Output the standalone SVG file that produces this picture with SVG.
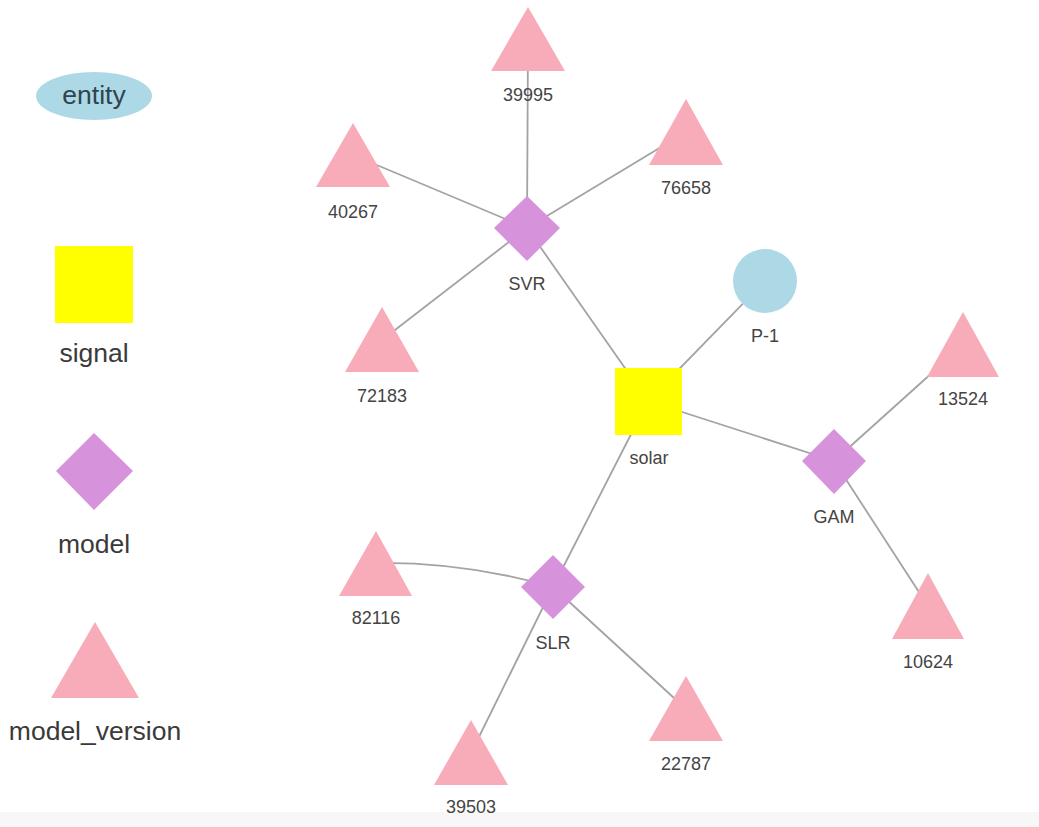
<svg xmlns="http://www.w3.org/2000/svg" width="1039" height="827" viewBox="0 0 1039 827">
<style>
.edge{stroke:#a3a3a3;stroke-width:1.8;fill:none}
.tri{fill:#f8abb9}
.dia{fill:#d792dc}
.sq{fill:#ffff00}
.ent{fill:#add8e6}
.lbl{font-family:"Liberation Sans",Arial,sans-serif;font-size:18px;fill:#444;text-anchor:middle}
.leg{font-family:"Liberation Sans",Arial,sans-serif;font-size:26.5px;fill:#3a3a3a;text-anchor:middle}
</style>
<rect width="1039" height="827" fill="#ffffff"/>
<rect x="0" y="812" width="1039" height="15" fill="#f7f7f7"/>
<g id="legend">
<g id="legend-entity"><ellipse class="ent" cx="94" cy="96" rx="58" ry="24"/><text class="leg" x="94" y="104" style="fill:#2f4450">entity</text></g>
<g id="legend-signal"><rect class="sq" x="55" y="246" width="78" height="77"/><text class="leg" x="94" y="362">signal</text></g>
<g id="legend-model"><polygon class="dia" points="94,433 133,471 94,510 56,471"/><text class="leg" x="94" y="553">model</text></g>
<g id="legend-model_version"><polygon class="tri" points="95,622 139,698 51,698"/><text class="leg" x="95" y="740">model_version</text></g>
</g>
<g id="edges">
<line class="edge" x1="527" y1="228" x2="528" y2="39"/>
<line class="edge" x1="527" y1="228" x2="353" y2="155"/>
<line class="edge" x1="527" y1="228" x2="686" y2="132"/>
<line class="edge" x1="527" y1="228" x2="382" y2="340"/>
<line class="edge" x1="527" y1="228" x2="648" y2="401"/>
<line class="edge" x1="648" y1="401" x2="765" y2="281"/>
<line class="edge" x1="648" y1="401" x2="834" y2="461"/>
<line class="edge" x1="648" y1="401" x2="553" y2="587"/>
<line class="edge" x1="834" y1="461" x2="963" y2="345"/>
<line class="edge" x1="834" y1="461" x2="928" y2="606"/>
<path class="edge" d="M375,563 Q466,562 553,587"/>
<line class="edge" x1="553" y1="587" x2="686" y2="709"/>
<line class="edge" x1="553" y1="587" x2="471" y2="753"/>
</g>
<g id="n39995"><polygon class="tri" points="528,7 565,71 491,71"/><text class="lbl" x="528" y="101">39995</text></g>
<g id="n40267"><polygon class="tri" points="353,123 390,187 316,187"/><text class="lbl" x="353" y="218">40267</text></g>
<g id="n76658"><polygon class="tri" points="686,99 723,165 649,165"/><text class="lbl" x="686" y="194">76658</text></g>
<g id="nSVR"><polygon class="dia" points="527,196 560,228 527,261 494,228"/><text class="lbl" x="527" y="290">SVR</text></g>
<g id="n72183"><polygon class="tri" points="382,307 419,372 345,372"/><text class="lbl" x="382" y="402">72183</text></g>
<g id="nsolar"><rect class="sq" x="615" y="368" width="67" height="67"/><text class="lbl" x="649" y="464">solar</text></g>
<g id="nP-1"><circle class="ent" cx="765" cy="281" r="32"/><text class="lbl" x="765" y="342">P-1</text></g>
<g id="n13524"><polygon class="tri" points="963,312 999,377 927,377"/><text class="lbl" x="963" y="405">13524</text></g>
<g id="nGAM"><polygon class="dia" points="834,429 866,461 834,494 802,461"/><text class="lbl" x="834" y="523">GAM</text></g>
<g id="n10624"><polygon class="tri" points="928,573 964,639 892,639"/><text class="lbl" x="928" y="668">10624</text></g>
<g id="nSLR"><polygon class="dia" points="553,555 585,587 553,619 521,587"/><text class="lbl" x="553" y="649">SLR</text></g>
<g id="n82116"><polygon class="tri" points="376,531 412,596 339,596"/><text class="lbl" x="376" y="624">82116</text></g>
<g id="n22787"><polygon class="tri" points="686,676 723,741 649,741"/><text class="lbl" x="686" y="770">22787</text></g>
<g id="n39503"><polygon class="tri" points="471,720 508,785 434,785"/><text class="lbl" x="471" y="813">39503</text></g>
</svg>
